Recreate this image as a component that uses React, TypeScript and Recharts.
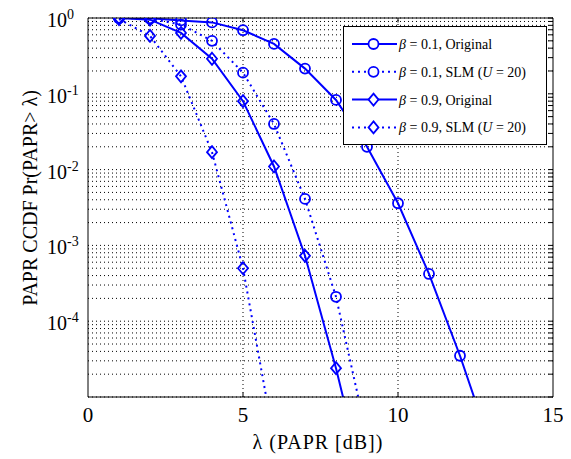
import { Label, Legend, Line, LineChart, ReferenceLine, XAxis, YAxis } from 'recharts';

const lambdaDb = [1, 2, 3, 4, 5, 6, 7, 8, 9, 10, 11, 12, 13];
const beta01Original = [1, 0.99, 0.93, 0.875, 0.69, 0.455, 0.215, 0.083, 0.02, 0.0036, 4.2e-4, 3.5e-5, 2.2e-6];
const beta01Slm = [1, 0.98, 0.82, 0.5, 0.19, 0.04, 0.0041, 2.1e-4, 3e-6];
const beta09Original = [1, 0.95, 0.635, 0.29, 0.08, 0.011, 7.3e-4, 2.4e-5, 5e-7];
const beta09Slm = [0.97, 0.58, 0.17, 0.017, 5e-4, 2.7e-6];

const xTicks = [0, 5, 10, 15];
const yTicks = [1e-5, 1e-4, 1e-3, 1e-2, 1e-1, 1];
const minorSteps = [2, 3, 4, 5, 6, 7, 8, 9];

const legendBetas = ['0.1', '0.1', '0.9', '0.9'];
const legendSchemes = ['Original', 'SLM', 'Original', 'SLM'];

const BLUE = '#0000ff';
const SERIF = '"Liberation Serif", "DejaVu Serif", serif';
const Y_MIN = 1e-5;

const toPoints = (vals: number[]) => vals.map((p, i) => ({ lambda: lambdaDb[i], p }));

const minorGrid = yTicks.slice(0, -1).flatMap((d) => minorSteps.map((k) => k * d));
const allYTicks = [...yTicks, ...minorGrid];
const tickUp = Y_MIN * Math.pow(10, 4.5 / 76);
const tickDown = Math.pow(10, -4.5 / 76);

const Marker = (props: any) => {
  const { cx, cy, payload, shape } = props;
  if (cx == null || cy == null || payload.p < Y_MIN) return null;
  if (shape === 'diamond') {
    return (
      <polygon
        points={`${cx},${cy - 6} ${cx + 5},${cy} ${cx},${cy + 6} ${cx - 5},${cy}`}
        fill="none"
        stroke={BLUE}
        strokeWidth={1.8}
      />
    );
  }
  return <circle cx={cx} cy={cy} r={5} fill="none" stroke={BLUE} strokeWidth={1.8} />;
};

const YTick = ({ x, y, payload }: any) => {
  const n = Math.round(Math.log10(payload.value));
  if (n === -5) return null;
  return (
    <text x={x - 41} y={y + 9} fontFamily={SERIF} fontSize={20} fill="#000">
      <tspan>10</tspan>
      <tspan dy={-8} fontSize={14}>{n === 0 ? '0' : `-${-n}`}</tspan>
    </text>
  );
};

const XTick = ({ x, y, payload }: any) => (
  <text x={x} y={y + 25} textAnchor="middle" fontFamily={SERIF} fontSize={21} fill="#000">
    {payload.value}
  </text>
);

const LegendBox = () => (
  <div style={{ width: 202, height: 117, border: '1px solid #000', background: '#fff' }}>
    <svg width={202} height={117}>
      {legendBetas.map((b, i) => {
        const y = 17 + i * 27.8;
        const dotted = legendSchemes[i] === 'SLM';
        return (
          <g key={i}>
            <line
              x1={8}
              x2={53}
              y1={y}
              y2={y}
              stroke={BLUE}
              strokeWidth={2}
              strokeDasharray={dotted ? '2 4' : undefined}
            />
            {i < 2 ? (
              <circle cx={29.5} cy={y} r={5} fill="#fff" stroke={BLUE} strokeWidth={1.8} />
            ) : (
              <polygon
                points={`29.5,${y - 6} 34.5,${y} 29.5,${y + 6} 24.5,${y}`}
                fill="#fff"
                stroke={BLUE}
                strokeWidth={1.8}
              />
            )}
            <text x={55} y={y + 5} fontFamily={SERIF} fontSize={14} fill="#000">
              <tspan fontStyle="italic">β</tspan>
              {` = ${b}, ${legendSchemes[i]}`}
              {dotted ? (
                <>
                  {' ('}
                  <tspan fontStyle="italic">U</tspan>
                  {' = 20)'}
                </>
              ) : null}
            </text>
          </g>
        );
      })}
    </svg>
  </div>
);

export default function App() {
  const dotted = '2 4';
  return (
    <LineChart width={563} height={451} margin={{ top: 10, right: 18, bottom: 0, left: 0 }}>
      <XAxis
        dataKey="lambda"
        type="number"
        domain={[0, 15]}
        ticks={xTicks}
        tickLine={false}
        tickSize={0}
        tickMargin={0}
        tick={<XTick />}
        axisLine={{ stroke: '#000' }}
        height={62}
      >
        <Label
          content={() => (
            <text
              x={310}
              y={441}
              textAnchor="middle"
              fontFamily={SERIF}
              fontSize={20}
              letterSpacing={1}
              fill="#000"
            >
              λ (PAPR [dB])
            </text>
          )}
        />
      </XAxis>
      <YAxis
        type="number"
        scale="log"
        domain={[Y_MIN, 1]}
        allowDataOverflow
        ticks={yTicks}
        tickLine={false}
        tickSize={0}
        tickMargin={0}
        tick={<YTick />}
        axisLine={{ stroke: '#000' }}
        width={80}
      >
        <Label
          content={() => (
            <text
              x={29}
              y={190}
              transform="rotate(-90, 29, 190)"
              textAnchor="middle"
              fontFamily={SERIF}
              fontSize={20}
              fill="#000"
            >
              PAPR CCDF Pr(PAPR&gt; λ)
            </text>
          )}
        />
      </YAxis>

      {allYTicks.map((v) => (
        <ReferenceLine key={`h${v}`} y={v} stroke="#000" strokeWidth={1} strokeDasharray="1 3" />
      ))}
      {[5, 10].map((v) => (
        <ReferenceLine key={`v${v}`} x={v} stroke="#000" strokeWidth={1} strokeDasharray="1 3" />
      ))}

      <Line
        data={toPoints(beta01Original)}
        dataKey="p"
        type="linear"
        stroke={BLUE}
        strokeWidth={2}
        dot={<Marker shape="circle" r={8} strokeWidth={2} />}
        activeDot={false}
        isAnimationActive={false}
      />
      <Line
        data={toPoints(beta01Slm)}
        dataKey="p"
        type="linear"
        stroke={BLUE}
        strokeWidth={2}
        strokeDasharray={dotted}
        dot={<Marker shape="circle" r={8} strokeWidth={2} />}
        activeDot={false}
        isAnimationActive={false}
      />
      <Line
        data={toPoints(beta09Original)}
        dataKey="p"
        type="linear"
        stroke={BLUE}
        strokeWidth={2}
        dot={<Marker shape="diamond" r={8} strokeWidth={2} />}
        activeDot={false}
        isAnimationActive={false}
      />
      <Line
        data={toPoints(beta09Slm)}
        dataKey="p"
        type="linear"
        stroke={BLUE}
        strokeWidth={2}
        strokeDasharray={dotted}
        dot={<Marker shape="diamond" r={8} strokeWidth={2} />}
        activeDot={false}
        isAnimationActive={false}
      />

      {/* box and inward ticks */}
      <ReferenceLine y={1} stroke="#000" strokeWidth={1} />
      <ReferenceLine x={15} stroke="#000" strokeWidth={1} />
      {allYTicks.map((v) => (
        <ReferenceLine
          key={`rt${v}`}
          segment={[{ x: 14.855, y: v }, { x: 15, y: v }]}
          stroke="#000"
          strokeWidth={1}
        />
      ))}
      {[5, 10].map((v) => (
        <ReferenceLine key={`bt${v}`} segment={[{ x: v, y: Y_MIN }, { x: v, y: tickUp }]} stroke="#000" />
      ))}
      {[5, 10].map((v) => (
        <ReferenceLine key={`tt${v}`} segment={[{ x: v, y: 1 }, { x: v, y: tickDown }]} stroke="#000" />
      ))}

      <Legend
        layout="vertical"
        align="center"
        verticalAlign="middle"
        content={<LegendBox />}
        wrapperStyle={{ position: 'absolute', left: 335, top: 18, width: 204, height: 119 }}
      />
    </LineChart>
  );
}
